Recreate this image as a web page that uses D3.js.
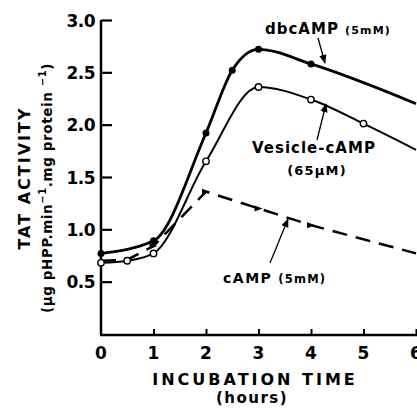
<!DOCTYPE html>
<html><head><meta charset="utf-8">
<script src="https://cdn.jsdelivr.net/npm/d3@7"></script>
<style>
html,body{margin:0;padding:0;background:#fff;}
svg{display:block;font-family:"DejaVu Sans",sans-serif;}
</style></head>
<body>
<svg id="c" width="417" height="409"></svg>
<script>
// ---- data ----
const xTicks = [0, 1, 2, 3, 4, 5, 6];
const yTicks = [0.5, 1.0, 1.5, 2.0, 2.5, 3.0];
const yTickLabels = ["0.5", "1.0", "1.5", "2.0", "2.5", "3.0"];

const dbcTimes  = [0, 1, 2, 2.5, 3, 4, 6];
const dbcValues = [0.77, 0.89, 1.92, 2.52, 2.72, 2.58, 2.20];
const dbcMarked = [true, true, true, true, true, true, false];

const vesTimes  = [0, 0.5, 1, 2, 3, 4, 5, 6];
const vesValues = [0.68, 0.70, 0.77, 1.65, 2.36, 2.24, 2.01, 1.76];
const vesMarked = [true, true, true, true, true, true, true, false];

const campTimes  = [0, 0.5, 1, 2, 3, 4, 6];
const campValues = [0.70, 0.71, 0.84, 1.36, 1.20, 1.04, 0.77];
const campMarked = [false, false, true, true, true, true, false];

// ---- chart ----
const svg = d3.select("#c");
const x = d3.scaleLinear().domain([0, 6]).range([101, 416]);
const y = d3.scaleLinear().domain([0, 3]).range([334, 20]);

const zip = (t, v, m) => t.map((d, i) => ({t: d, v: v[i], m: m[i]}));
const dbc = zip(dbcTimes, dbcValues, dbcMarked);
const ves = zip(vesTimes, vesValues, vesMarked);
const camp = zip(campTimes, campValues, campMarked);

// axes
const yAxis = d3.axisRight(y).tickValues(yTicks).tickSize(11).tickFormat("");
const gy = svg.append("g").attr("transform", `translate(${x(0)},0)`).call(yAxis);
gy.select(".domain").attr("d", `M0,${y(0)+1}V${y(3)}`).attr("stroke", "#000").attr("stroke-width", 2.5);
gy.selectAll(".tick line").attr("stroke", "#000").attr("stroke-width", 2.2);

const xAxis = d3.axisTop(x).tickValues(xTicks.slice(1)).tickSize(6).tickFormat("");
const gx = svg.append("g").attr("transform", `translate(0,${y(0)+1})`).call(xAxis);
gx.select(".domain").attr("d", `M${x(0)-1},0H417`).attr("stroke", "#000").attr("stroke-width", 2.5);
gx.selectAll(".tick line").attr("stroke", "#000").attr("stroke-width", 2);

// tick labels
svg.append("g").selectAll("text").data(yTicks).join("text")
  .attr("x", 95).attr("y", d => y(d) + 6.5)
  .attr("text-anchor", "end").attr("font-size", 17).attr("font-weight", "bold")
  .attr("letter-spacing", -0.5)
  .text((d, i) => yTickLabels[i]);
svg.append("g").selectAll("text").data(xTicks).join("text")
  .attr("x", d => x(d)).attr("y", 359)
  .attr("text-anchor", "middle").attr("font-size", 17).attr("font-weight", "bold")
  .text(d => d);

// axis titles
svg.append("text").attr("transform", "translate(30,178) rotate(-90)")
  .attr("text-anchor", "middle").attr("font-size", 16).attr("font-weight", "bold")
  .attr("letter-spacing", 2).text("TAT ACTIVITY");
const t2 = svg.append("text").attr("transform", "translate(52,188) rotate(-90)")
  .attr("text-anchor", "middle").attr("font-size", 13.5).attr("font-weight", "bold")
  .attr("letter-spacing", 0.6);
t2.append("tspan").text("(μg pHPP.min");
t2.append("tspan").attr("dy", -6).attr("font-size", 10).text("−1");
t2.append("tspan").attr("dy", 6).text(".mg protein ");
t2.append("tspan").attr("dy", -6).attr("font-size", 10).text("−1");
t2.append("tspan").attr("dy", 6).text(")");

svg.append("text").attr("x", 255).attr("y", 385).attr("text-anchor", "middle")
  .attr("font-size", 16).attr("font-weight", "bold").attr("letter-spacing", 3)
  .text("INCUBATION TIME");
svg.append("text").attr("x", 252).attr("y", 403).attr("text-anchor", "middle")
  .attr("font-size", 15).attr("font-weight", "bold").attr("letter-spacing", 1.5)
  .text("(hours)");

// lines
const smooth = d3.line().x(d => x(d.t)).y(d => y(d.v)).curve(d3.curveMonotoneX);
const straight = d3.line().x(d => x(d.t)).y(d => y(d.v));

svg.append("path").datum(camp).attr("d", straight).attr("fill", "none")
  .attr("stroke", "#000").attr("stroke-width", 2.5).attr("stroke-dasharray", "15,9");
svg.append("path").datum(ves).attr("d", smooth).attr("fill", "none")
  .attr("stroke", "#000").attr("stroke-width", 2);
svg.append("path").datum(dbc).attr("d", smooth).attr("fill", "none")
  .attr("stroke", "#000").attr("stroke-width", 2.8);

// markers
svg.append("g").selectAll("circle").data(dbc.filter(d => d.m)).join("circle")
  .attr("cx", d => x(d.t)).attr("cy", d => y(d.v)).attr("r", 3.5).attr("fill", "#000");
svg.append("g").selectAll("circle").data(ves.filter(d => d.m)).join("circle")
  .attr("cx", d => x(d.t)).attr("cy", d => y(d.v)).attr("r", 3.2)
  .attr("fill", "#fff").attr("stroke", "#000").attr("stroke-width", 1.4);
svg.append("g").selectAll("path").data(camp.filter(d => d.m)).join("path")
  .attr("transform", d => `translate(${x(d.t)},${y(d.v)})`)
  .attr("d", "M-4,-3L4,0L-4,3Z").attr("fill", "#000");

// annotations
function label(xp, yp, main, small) {
  const t = svg.append("text").attr("x", xp).attr("y", yp).attr("font-weight", "bold");
  t.append("tspan").attr("font-size", 15).attr("letter-spacing", 1).text(main);
  if (small) t.append("tspan").attr("font-size", 11).attr("letter-spacing", 1.2).attr("dx", 6).text(small);
  return t;
}
label(265, 34, "dbcAMP", "(5mM)");
label(252, 153, "Vesicle-cAMP", null);
svg.append("text").attr("x", 317).attr("y", 175).attr("text-anchor", "middle")
  .attr("font-size", 13).attr("font-weight", "bold").attr("letter-spacing", 1.2).text("(65μM)");
svg.append("text").attr("x", 223).attr("y", 283).attr("font-weight", "bold")
  .call(t => {
    t.append("tspan").attr("font-size", 14).attr("letter-spacing", 1.5).text("cAMP");
    t.append("tspan").attr("font-size", 11.5).attr("letter-spacing", 1.2).attr("dx", 6).text("(5mM)");
  });

const defs = svg.append("defs");
defs.append("marker").attr("id", "ah").attr("viewBox", "0 0 10 10").attr("refX", 9).attr("refY", 5)
  .attr("markerWidth", 7).attr("markerHeight", 7).attr("orient", "auto")
  .append("path").attr("d", "M0,1L10,5L0,9Z").attr("fill", "#000");
const arrows = [[318, 38, 325, 63], [317, 140, 326, 104], [270, 263, 288, 219]];
svg.append("g").selectAll("line").data(arrows).join("line")
  .attr("x1", d => d[0]).attr("y1", d => d[1]).attr("x2", d => d[2]).attr("y2", d => d[3])
  .attr("stroke", "#000").attr("stroke-width", 1.3).attr("marker-end", "url(#ah)");
</script>
</body></html>
